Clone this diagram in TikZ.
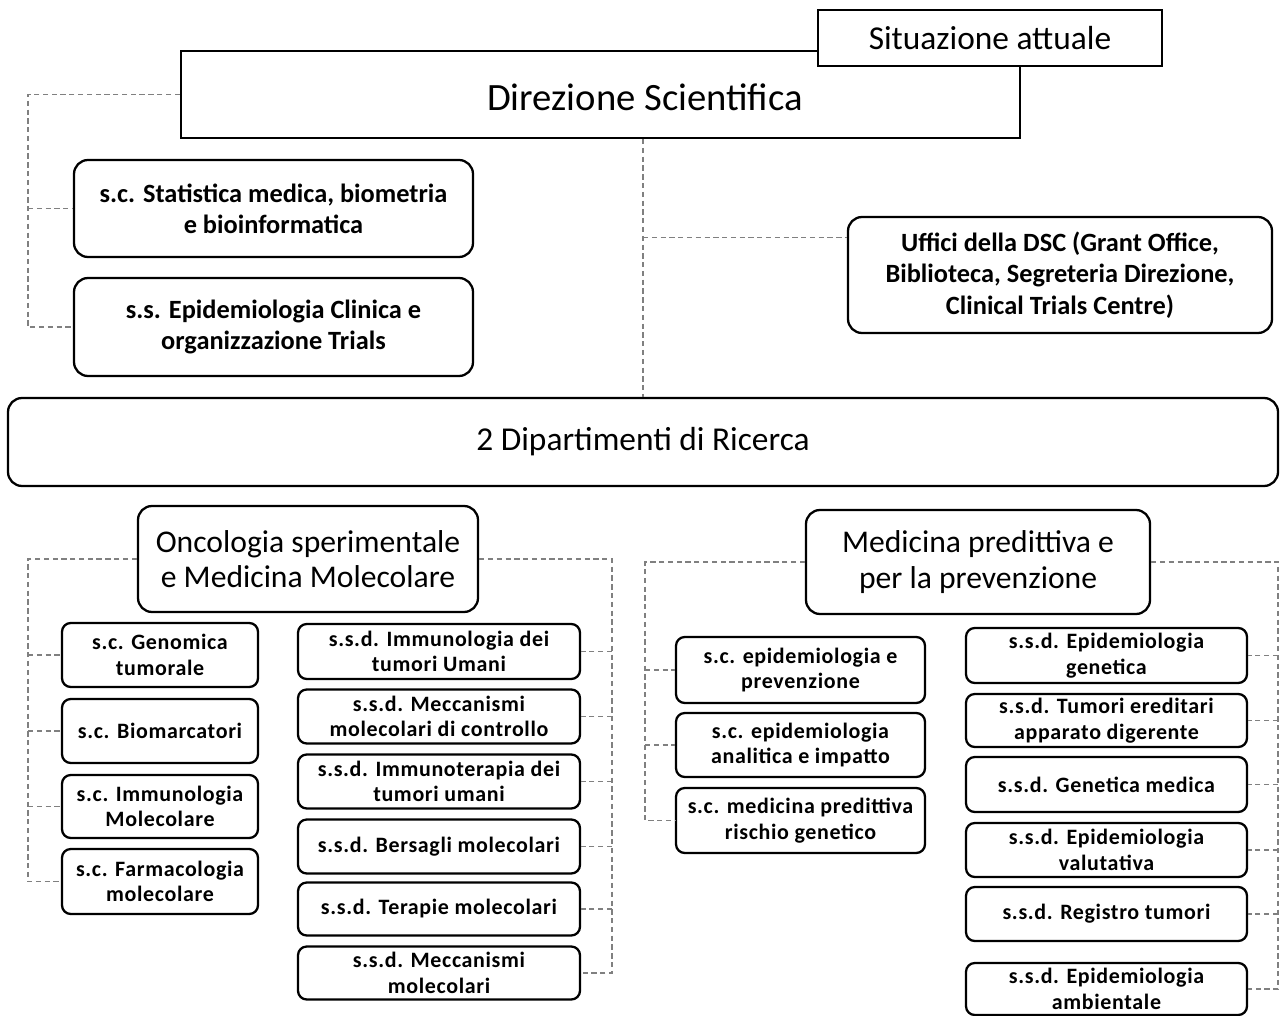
\documentclass[tikz,border=0pt]{standalone}
\usepackage{fontspec}
\setmainfont{Carlito}
\newfontfamily\spacedfont[LetterSpace=3]{Carlito}
\usepackage{tikz}

\begin{document}
\begin{tikzpicture}[x=0.02cm, y=-0.02cm,
  boxsize/.style 2 args={minimum width=#1*0.02cm, minimum height=#2*0.02cm},
  plainbox/.style={draw, line width=1.3pt, fill=white, align=center, inner sep=0pt},
  roundbox/.style={plainbox, rounded corners=8pt},
  unitbox/.style={plainbox, rounded corners=5pt, font=\spacedfont\bfseries\fontsize{12.5}{14.6}\selectfont},
  link/.style={densely dashed, gray, line width=0.6pt}]
  \useasboundingbox (0,0) rectangle (1281,1016);
  % top level
  \node[plainbox, boxsize={839}{87}] (direzione) at (600.5,94.5) {};
  \node[font=\fontsize{22}{26}\selectfont] (direzionetxt) at (645,97) {Direzione Scientifica};
  \node[plainbox, boxsize={344}{56}, font=\fontsize{19}{22}\selectfont] (situazione) at (990,38) {Situazione attuale};
  \node[roundbox, boxsize={399}{97}, font=\bfseries\fontsize{15}{17.6}\selectfont] (statistica) at (273.5,208.5) {s.c. Statistica medica, biometria\\e bioinformatica};
  \node[roundbox, boxsize={399}{98}, font=\bfseries\fontsize{15}{17.6}\selectfont] (epiclin) at (273.5,327) {s.s. Epidemiologia Clinica e\\organizzazione Trials};
  \node[roundbox, boxsize={424}{116}, font=\bfseries\fontsize{15}{18}\selectfont] (uffici) at (1060,275) {Uffici della DSC (Grant Office,\\Biblioteca, Segreteria Direzione,\\Clinical Trials Centre)};
  \node[roundbox, boxsize={1270}{88}, font=\fontsize{19}{22}\selectfont] (dipart) at (643,442) {2 Dipartimenti di Ricerca};
  % departments
  \node[roundbox, boxsize={340}{106}, font=\fontsize{18}{20}\selectfont] (onco) at (308,559) {Oncologia sperimentale\\e Medicina Molecolare};
  \node[roundbox, boxsize={344}{104}, font=\fontsize{18}{20.5}\selectfont] (medpred) at (978,562) {Medicina predittiva e\\per la prevenzione};
  % oncologia: s.c.
  \node[unitbox, boxsize={196}{64}] (genomica) at (160,655) {s.c. Genomica\\tumorale};
  \node[unitbox, boxsize={196}{64}] (biomarc) at (160,731) {s.c. Biomarcatori};
  \node[unitbox, boxsize={196}{63}] (immunomol) at (160,806.5) {s.c. Immunologia\\Molecolare};
  \node[unitbox, boxsize={196}{65}] (farma) at (160,881.5) {s.c. Farmacologia\\molecolare};
  % oncologia: s.s.d.
  \node[unitbox, boxsize={282}{55}] (immtum) at (439,651.5) {s.s.d. Immunologia dei\\tumori Umani};
  \node[unitbox, boxsize={282}{54}] (meccontr) at (439,716.5) {s.s.d. Meccanismi\\molecolari di controllo};
  \node[unitbox, boxsize={282}{54}] (immter) at (439,781.5) {s.s.d. Immunoterapia dei\\tumori umani};
  \node[unitbox, boxsize={282}{54}] (bersagli) at (439,846.5) {s.s.d. Bersagli molecolari};
  \node[unitbox, boxsize={282}{53}] (terapie) at (439,909) {s.s.d. Terapie molecolari};
  \node[unitbox, boxsize={282}{53}] (meccmol) at (439,973) {s.s.d. Meccanismi\\molecolari};
  % medicina: s.c.
  \node[unitbox, boxsize={249}{66}] (epiprev) at (800.5,670) {s.c. epidemiologia e\\prevenzione};
  \node[unitbox, boxsize={249}{64}] (epianal) at (800.5,745) {s.c. epidemiologia\\analitica e impatto};
  \node[unitbox, boxsize={249}{65}] (rischio) at (800.5,820.5) {s.c. medicina predittiva\\rischio genetico};
  % medicina: s.s.d.
  \node[unitbox, boxsize={281}{55}] (epigen) at (1106.5,655.5) {s.s.d. Epidemiologia\\genetica};
  \node[unitbox, boxsize={281}{53}] (ereditari) at (1106.5,720.5) {s.s.d. Tumori ereditari\\apparato digerente};
  \node[unitbox, boxsize={281}{55}] (genmed) at (1106.5,784.5) {s.s.d. Genetica medica};
  \node[unitbox, boxsize={281}{54}] (epival) at (1106.5,850) {s.s.d. Epidemiologia\\valutativa};
  \node[unitbox, boxsize={281}{54}] (registro) at (1106.5,914) {s.s.d. Registro tumori};
  \node[unitbox, boxsize={281}{52}] (epiamb) at (1106.5,989) {s.s.d. Epidemiologia\\ambientale};
  % rails
  \coordinate (railA) at (28,0);
  \coordinate (railB) at (28,0);
  \coordinate (railC) at (612,0);
  \coordinate (railD) at (645,0);
  \coordinate (railE) at (1278,0);
  % connectors
  \draw[link] (direzione.west) -- (direzione.west -| railA) |- (epiclin.west);
  \draw[link] (railA |- statistica.west) -- (statistica.west);
  \draw[link] (dipart.north |- direzione.south) -- (dipart.north);
  \draw[link] (dipart.north |- uffici.170) -- (uffici.170);
  \draw[link] (onco.west) -- (onco.west -| railB) |- (farma.west);
  \foreach \b in {genomica,biomarc,immunomol}
    \draw[link] (railB |- \b.west) -- (\b.west);
  \draw[link] (onco.east) -- (onco.east -| railC) |- (meccmol.east);
  \foreach \b in {immtum,meccontr,immter,bersagli,terapie}
    \draw[link] (railC |- \b.east) -- (\b.east);
  \draw[link] (medpred.west) -- (medpred.west -| railD) |- (rischio.west);
  \foreach \b in {epiprev,epianal}
    \draw[link] (railD |- \b.west) -- (\b.west);
  \draw[link] (medpred.east) -- (medpred.east -| railE) |- (epiamb.east);
  \foreach \b in {epigen,ereditari,genmed,epival,registro}
    \draw[link] (railE |- \b.east) -- (\b.east);
\end{tikzpicture}
\end{document}
